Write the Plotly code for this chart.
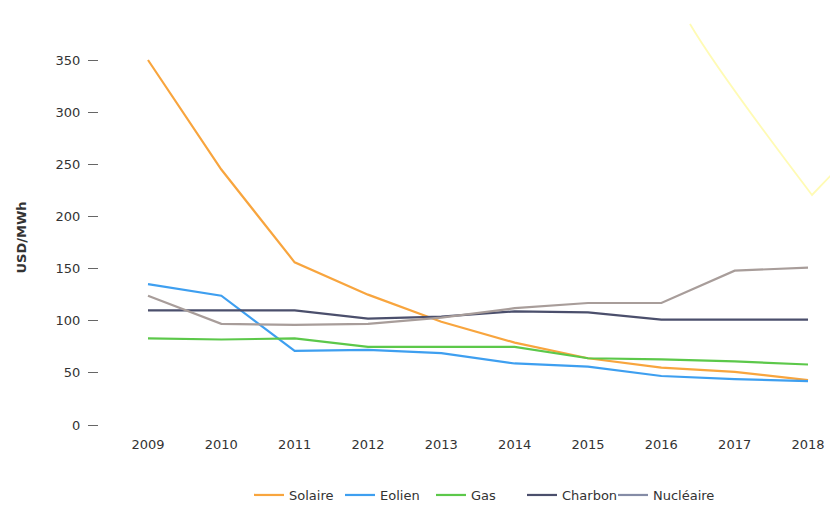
import plotly.graph_objects as go

years = [2009, 2010, 2011, 2012, 2013, 2014, 2015, 2016, 2017, 2018]
solaire = [350, 245, 156, 125, 99, 79, 64, 55, 51, 43]
eolien = [135, 124, 71, 72, 69, 59, 56, 47, 44, 42]
gas = [83, 82, 83, 75, 75, 75, 64, 63, 61, 58]
charbon = [110, 110, 110, 102, 104, 109, 108, 101, 101, 101]
nucleaire = [124, 97, 96, 97, 103, 112, 117, 117, 148, 151]

y_ticks = [0, 50, 100, 150, 200, 250, 300, 350]

series = [
    ("Solaire", solaire, "#f8a53e", "#f8a53e"),
    ("Eolien", eolien, "#3e9ff0", "#3e9ff0"),
    ("Gas", gas, "#5cc84a", "#5cc84a"),
    ("Charbon", charbon, "#4b4f6c", "#4b4f6c"),
    ("Nucléaire", nucleaire, "#a89d9a", "#858ca6"),
]

fig = go.Figure()
for name, vals, col, legcol in series:
    same = col == legcol
    fig.add_trace(go.Scatter(
        x=years, y=vals, mode="lines", name=name,
        line=dict(color=col, width=2.2),
        showlegend=same, hoverinfo="x+y+name",
    ))
    if not same:
        fig.add_trace(go.Scatter(
            x=[None], y=[None], mode="lines", name=name,
            line=dict(color=legcol, width=2.2), showlegend=True,
        ))

# invisible spacer entry so the last legend label is not clipped
fig.add_trace(go.Scatter(
    x=[None], y=[None], mode="lines", name=" ",
    line=dict(color="rgba(0,0,0,0)", width=0), showlegend=True, hoverinfo="skip",
))

font_family = "DejaVu Sans, Verdana, sans-serif"

fig.update_layout(
    width=838, height=507,
    margin=dict(l=91, r=8, t=32, b=80, autoexpand=False),
    paper_bgcolor="white", plot_bgcolor="white",
    font=dict(family=font_family, size=13, color="#333333"),
    xaxis=dict(
        range=[2008.332, 2018.409],
        tickmode="array", tickvals=years, ticktext=[str(y) for y in years],
        showgrid=False, zeroline=False, showline=False, ticks="",
        tickfont=dict(size=13, color="#333333"),
        automargin=False, fixedrange=True,
    ),
    yaxis=dict(
        range=[-9.59, 369.18],
        tickmode="array", tickvals=y_ticks,
        showgrid=False, zeroline=False, showline=False,
        ticks="outside", ticklen=10, tickwidth=1, tickcolor="#666666",
        ticklabelstandoff=5,
        tickfont=dict(size=13, color="#333333"),
        title=dict(text="<b>USD/MWh</b>", font=dict(size=13, color="#333333"), standoff=26),
        automargin=False, fixedrange=True,
    ),
    legend=dict(
        orientation="h", xref="container", x=0.2876, xanchor="left",
        yref="container", y=0.0394, yanchor="middle",
        font=dict(size=13, color="#333333"),
        entrywidth=46, entrywidthmode="pixels",
        traceorder="normal",
    ),
    shapes=[dict(
        type="path", xref="paper", yref="paper",
        path="M 0.7997 1.0405 Q 0.836 0.9246 0.9648 0.6076 L 1.0 0.676",
        line=dict(color="#fffbb5", width=1.8), layer="below",
    )],
)

fig.write_html("out.html")
